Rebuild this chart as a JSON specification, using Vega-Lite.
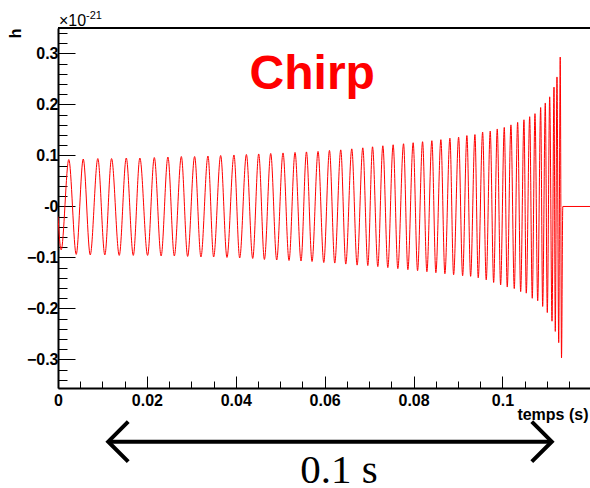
{
  "$schema": "https://vega.github.io/schema/vega-lite/v6.json",
  "autosize": {"type": "none"},
  "padding": {"left": 58, "top": 28, "right": 0, "bottom": 100},
  "width": 532,
  "height": 360,
  "background": "white",
  "config": {
    "view": {"stroke": null},
    "font": "Liberation Sans"
  },
  "datasets": {
    "chirp": [
      {"t": 0.0, "h": -0.02},
      {"t": 0.00072, "h": -0.085},
      {"t": 0.00243, "h": 0.092},
      {"t": 0.0041, "h": -0.094},
      {"t": 0.00568, "h": 0.093},
      {"t": 0.00725, "h": -0.095},
      {"t": 0.00896, "h": 0.094},
      {"t": 0.01054, "h": -0.095},
      {"t": 0.01205, "h": 0.094},
      {"t": 0.01378, "h": -0.096},
      {"t": 0.01536, "h": 0.095},
      {"t": 0.01694, "h": -0.096},
      {"t": 0.01842, "h": 0.095},
      {"t": 0.02016, "h": -0.096},
      {"t": 0.02167, "h": 0.096},
      {"t": 0.0232, "h": -0.097},
      {"t": 0.02473, "h": 0.097},
      {"t": 0.02617, "h": -0.097},
      {"t": 0.02775, "h": 0.098},
      {"t": 0.02917, "h": -0.098},
      {"t": 0.03074, "h": 0.098},
      {"t": 0.03216, "h": -0.099},
      {"t": 0.03374, "h": 0.099},
      {"t": 0.03502, "h": -0.099},
      {"t": 0.0366, "h": 0.1},
      {"t": 0.03802, "h": -0.1},
      {"t": 0.03959, "h": 0.101},
      {"t": 0.04088, "h": -0.101},
      {"t": 0.04239, "h": 0.102},
      {"t": 0.04381, "h": -0.102},
      {"t": 0.04516, "h": 0.103},
      {"t": 0.04644, "h": -0.104},
      {"t": 0.04786, "h": 0.104},
      {"t": 0.04921, "h": -0.105},
      {"t": 0.05063, "h": 0.105},
      {"t": 0.05198, "h": -0.106},
      {"t": 0.05333, "h": 0.106},
      {"t": 0.05468, "h": -0.107},
      {"t": 0.0559, "h": 0.107},
      {"t": 0.05716, "h": -0.108},
      {"t": 0.05851, "h": 0.108},
      {"t": 0.0598, "h": -0.11},
      {"t": 0.06108, "h": 0.11},
      {"t": 0.06227, "h": -0.111},
      {"t": 0.06362, "h": 0.111},
      {"t": 0.06475, "h": -0.113},
      {"t": 0.0661, "h": 0.113},
      {"t": 0.0673, "h": -0.115},
      {"t": 0.06858, "h": 0.115},
      {"t": 0.06971, "h": -0.116},
      {"t": 0.07077, "h": 0.117},
      {"t": 0.07196, "h": -0.118},
      {"t": 0.07309, "h": 0.119},
      {"t": 0.07421, "h": -0.12},
      {"t": 0.07541, "h": 0.121},
      {"t": 0.07646, "h": -0.122},
      {"t": 0.07775, "h": 0.123},
      {"t": 0.07872, "h": -0.124},
      {"t": 0.07991, "h": 0.125},
      {"t": 0.0809, "h": -0.126},
      {"t": 0.08203, "h": 0.127},
      {"t": 0.083, "h": -0.128},
      {"t": 0.08412, "h": 0.129},
      {"t": 0.08502, "h": -0.13},
      {"t": 0.08615, "h": 0.131},
      {"t": 0.08705, "h": -0.132},
      {"t": 0.08818, "h": 0.134},
      {"t": 0.08901, "h": -0.134},
      {"t": 0.09014, "h": 0.136},
      {"t": 0.09104, "h": -0.136},
      {"t": 0.092, "h": 0.139},
      {"t": 0.09284, "h": -0.137},
      {"t": 0.09381, "h": 0.141},
      {"t": 0.09455, "h": -0.14},
      {"t": 0.09554, "h": 0.146},
      {"t": 0.09635, "h": -0.144},
      {"t": 0.09725, "h": 0.148},
      {"t": 0.09802, "h": -0.149},
      {"t": 0.09883, "h": 0.152},
      {"t": 0.09959, "h": -0.154},
      {"t": 0.10041, "h": 0.155},
      {"t": 0.10108, "h": -0.158},
      {"t": 0.10191, "h": 0.16},
      {"t": 0.10266, "h": -0.161},
      {"t": 0.10342, "h": 0.165},
      {"t": 0.1041, "h": -0.167},
      {"t": 0.10484, "h": 0.17},
      {"t": 0.10536, "h": -0.17},
      {"t": 0.10613, "h": 0.176},
      {"t": 0.10671, "h": -0.18},
      {"t": 0.10732, "h": 0.182},
      {"t": 0.10793, "h": -0.185},
      {"t": 0.1086, "h": 0.194},
      {"t": 0.10905, "h": -0.196},
      {"t": 0.10964, "h": 0.203},
      {"t": 0.11009, "h": -0.208},
      {"t": 0.11063, "h": 0.215},
      {"t": 0.11115, "h": -0.225},
      {"t": 0.1116, "h": 0.234},
      {"t": 0.11189, "h": -0.245},
      {"t": 0.11227, "h": 0.254},
      {"t": 0.11266, "h": -0.267},
      {"t": 0.113, "h": 0.293},
      {"t": 0.11329, "h": -0.297},
      {"t": 0.11358, "h": 0.0},
      {"t": 0.1197, "h": 0.0}
    ],
    "span": [
      {"from": 0.0113, "to": 0.1111, "label": "0.1 s", "mid": 0.0632}
    ],
    "one": [{}]
  },
  "resolve": {"axis": {"x": "independent", "y": "independent"}},
  "layer": [
    {
      "data": {"name": "one"},
      "mark": {"type": "text", "text": "", "opacity": 0},
      "encoding": {
        "x": {
          "datum": 0,
          "type": "quantitative",
          "scale": {"domain": [0, 0.1197], "nice": false, "zero": false},
          "axis": {
            "orient": "bottom",
            "values": [0.005, 0.01, 0.015, 0.025, 0.03, 0.035, 0.045, 0.05, 0.055, 0.065, 0.07, 0.075, 0.085, 0.09, 0.095, 0.105, 0.11, 0.115],
            "labels": false,
            "domain": false,
            "grid": false,
            "tickSize": -7,
            "tickColor": "#000000",
            "tickWidth": 1,
            "title": null
          }
        },
        "y": {
          "datum": 0,
          "type": "quantitative",
          "scale": {"domain": [-0.356, 0.35], "nice": false, "zero": false},
          "axis": {
            "orient": "left",
            "values": [-0.34, -0.32, -0.28, -0.26, -0.24, -0.22, -0.18, -0.16, -0.14, -0.12, -0.08, -0.06, -0.04, -0.02, 0.02, 0.04, 0.06, 0.08, 0.12, 0.14, 0.16, 0.18, 0.22, 0.24, 0.26, 0.28, 0.32, 0.34],
            "labels": false,
            "domain": false,
            "grid": false,
            "tickSize": -9,
            "tickColor": "#000000",
            "tickWidth": 1,
            "title": null
          }
        }
      }
    },
    {
      "data": {"name": "chirp"},
      "mark": {"type": "line", "color": "#ff0000", "strokeWidth": 1, "interpolate": "monotone", "clip": true},
      "encoding": {
        "x": {
          "field": "t",
          "type": "quantitative",
          "axis": {
            "orient": "bottom",
            "values": [0, 0.02, 0.04, 0.06, 0.08, 0.1],
            "labelExpr": "format(datum.value, '~g')",
            "labelOverlap": false,
            "labelFont": "Liberation Sans",
            "labelFontWeight": "bold",
            "labelFontSize": 16,
            "labelColor": "#000000",
            "labelPadding": 16,
            "labelFlush": false,
            "tickSize": -12,
            "tickColor": "#000000",
            "tickWidth": 1,
            "domainColor": "#000000",
            "domainWidth": 2,
            "grid": false,
            "title": "temps (s)",
            "titleFont": "Liberation Sans",
            "titleFontWeight": "bold",
            "titleFontSize": 16,
            "titleColor": "#000000",
            "titleAlign": "right",
            "titleAnchor": "end",
            "titleBaseline": "alphabetic",
            "titleX": 530,
            "titleY": 31.5
          }
        },
        "y": {
          "field": "h",
          "type": "quantitative",
          "axis": {
            "orient": "left",
            "values": [-0.3, -0.2, -0.1, 0, 0.1, 0.2, 0.3],
            "labelExpr": "datum.value == 0 ? '-0' : format(datum.value, '.1f')",
            "labelOverlap": false,
            "labelFont": "Liberation Sans",
            "labelFontWeight": "bold",
            "labelFontSize": 16,
            "labelColor": "#000000",
            "labelPadding": 17,
            "labelFlush": false,
            "tickSize": -17,
            "tickColor": "#000000",
            "tickWidth": 1,
            "domainColor": "#000000",
            "domainWidth": 2,
            "grid": false,
            "title": "h",
            "titleFont": "Liberation Sans",
            "titleFontWeight": "bold",
            "titleFontSize": 16,
            "titleColor": "#000000",
            "titleAngle": -90,
            "titleAlign": "right",
            "titleBaseline": "alphabetic",
            "titleX": -38,
            "titleY": 0
          }
        }
      }
    },
    {
      "data": {"name": "one"},
      "mark": {"type": "rule", "color": "#000000", "strokeWidth": 2},
      "encoding": {"y": {"datum": 0.35, "axis": null}}
    },
    {
      "data": {"name": "one"},
      "mark": {"type": "text", "text": "Chirp", "color": "#ff0000", "font": "Liberation Sans", "fontWeight": "bold", "fontSize": 48, "align": "center", "baseline": "alphabetic"},
      "encoding": {"x": {"datum": 0.0572, "axis": null}, "y": {"datum": 0.2304, "axis": null}}
    },
    {
      "data": {"name": "one"},
      "mark": {"type": "text", "text": "×10", "color": "#000000", "font": "Liberation Sans", "fontSize": 16, "align": "left", "baseline": "alphabetic"},
      "encoding": {"x": {"datum": 0.0002, "axis": null}, "y": {"datum": 0.3539, "axis": null}}
    },
    {
      "data": {"name": "one"},
      "mark": {"type": "text", "text": "-21", "color": "#000000", "font": "Liberation Sans", "fontSize": 11, "align": "left", "baseline": "alphabetic"},
      "encoding": {"x": {"datum": 0.0063, "axis": null}, "y": {"datum": 0.3676, "axis": null}}
    },
    {
      "data": {"name": "span"},
      "mark": {"type": "rule", "color": "#000000", "strokeWidth": 4},
      "encoding": {
        "x": {"field": "from", "type": "quantitative", "axis": null},
        "x2": {"field": "to"},
        "y": {"datum": -0.4613, "axis": null}
      }
    },
    {
      "data": {"name": "span"},
      "mark": {"type": "point", "shape": "M 1 -1 L 0 0 L 1 1", "filled": false, "size": 1600, "strokeWidth": 4, "color": "#000000", "opacity": 1},
      "encoding": {
        "x": {"field": "from", "type": "quantitative", "axis": null},
        "y": {"datum": -0.4613, "axis": null}
      }
    },
    {
      "data": {"name": "span"},
      "mark": {"type": "point", "shape": "M -1 -1 L 0 0 L -1 1", "filled": false, "size": 1600, "strokeWidth": 4, "color": "#000000", "opacity": 1},
      "encoding": {
        "x": {"field": "to", "type": "quantitative", "axis": null},
        "y": {"datum": -0.4613, "axis": null}
      }
    },
    {
      "data": {"name": "span"},
      "mark": {"type": "text", "color": "#000000", "font": "Liberation Serif", "fontSize": 41, "align": "center", "baseline": "alphabetic"},
      "encoding": {
        "x": {"field": "mid", "type": "quantitative", "axis": null},
        "y": {"datum": -0.5423, "axis": null},
        "text": {"field": "label"}
      }
    }
  ]
}
